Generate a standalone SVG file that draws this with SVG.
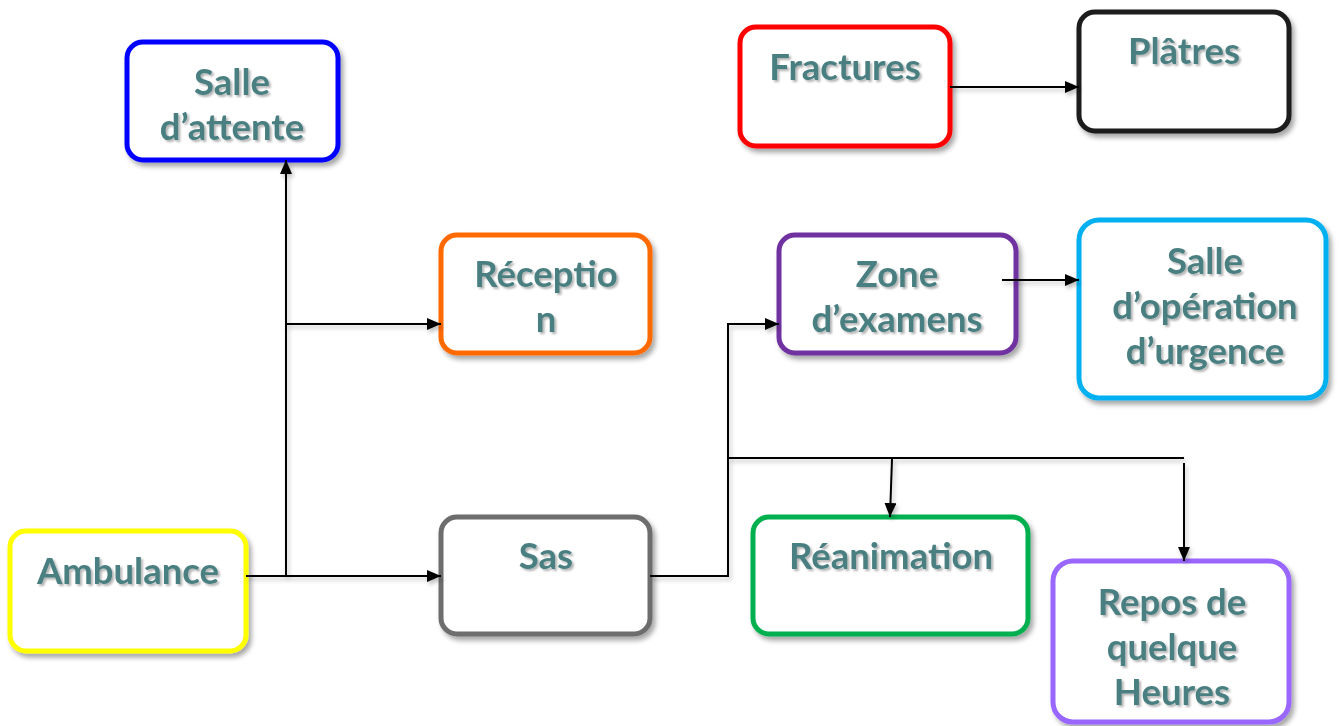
<svg xmlns="http://www.w3.org/2000/svg" width="1340" height="726" viewBox="0 0 1340 726">
<style>
.box{fill:#fff;stroke-width:5;filter:url(#sh)}
.t{font-family:Lato,"Open Sans","Liberation Sans",sans-serif;font-weight:bold;font-size:36.5px;fill:#4a7f80;text-anchor:middle;filter:url(#tsh)}
.c{fill:none;stroke:#000;stroke-width:2;filter:url(#lsh)}
</style>
<defs>
<filter id="sh" x="-10%" y="-10%" width="130%" height="130%"><feDropShadow dx="3" dy="4" stdDeviation="2.5" flood-color="#000" flood-opacity="0.35"/></filter>
<filter id="tsh" x="-10%" y="-10%" width="130%" height="140%"><feDropShadow dx="2" dy="2" stdDeviation="1.2" flood-color="#000" flood-opacity="0.3"/></filter>
<filter id="lsh" filterUnits="userSpaceOnUse" x="0" y="0" width="1340" height="726"><feDropShadow dx="2" dy="3" stdDeviation="2" flood-color="#000" flood-opacity="0.25"/></filter>
<marker id="ah" viewBox="0 0 10 10" refX="10" refY="5" markerWidth="14" markerHeight="12" markerUnits="userSpaceOnUse" orient="auto" preserveAspectRatio="none"><path d="M0,0L10,5L0,10z" fill="#000"/></marker>
</defs>
<g id="salle-attente"><rect class="box" x="127" y="42" width="211" height="118" rx="16" stroke="#0000ff"/><text class="t" x="232" y="95">Salle</text><text class="t" x="232" y="140">d’attente</text></g>
<g id="reception"><rect class="box" x="441" y="235" width="209" height="118" rx="16" stroke="#ff6a00"/><text class="t" x="546" y="287">Réceptio</text><text class="t" x="546" y="332">n</text></g>
<g id="ambulance"><rect class="box" x="10" y="531" width="236" height="120" rx="16" stroke="#ffff00"/><text class="t" x="128" y="584">Ambulance</text></g>
<g id="sas"><rect class="box" x="441" y="517" width="209" height="117" rx="16" stroke="#6d6d6d"/><text class="t" x="546" y="569">Sas</text></g>
<g id="fractures"><rect class="box" x="740" y="27" width="210" height="119" rx="16" stroke="#ff0000"/><text class="t" x="845" y="80">Fractures</text></g>
<g id="platres"><rect class="box" x="1079" y="12" width="210" height="119" rx="16" stroke="#1a1a1a"/><text class="t" x="1184" y="64">Plâtres</text></g>
<g id="zone-examens"><rect class="box" x="779" y="235" width="237" height="118" rx="16" stroke="#7030a0"/><text class="t" x="897" y="287">Zone</text><text class="t" x="897" y="332">d’examens</text></g>
<g id="salle-operation"><rect class="box" x="1079" y="220" width="247" height="178" rx="20" stroke="#00b0f0"/><text class="t" x="1205" y="274">Salle</text><text class="t" x="1205" y="319">d’opération</text><text class="t" x="1205" y="364">d’urgence</text></g>
<g id="reanimation"><rect class="box" x="753" y="517" width="275" height="117" rx="16" stroke="#00b050"/><text class="t" x="891" y="569">Réanimation</text></g>
<g id="repos"><rect class="box" x="1053" y="561" width="236" height="161" rx="20" stroke="#9966ff"/><text class="t" x="1172" y="615">Repos de</text><text class="t" x="1172" y="660">quelque</text><text class="t" x="1172" y="705">Heures</text></g>
<g id="connectors">
<path class="c" d="M246,576H441" marker-end="url(#ah)"/>
<path class="c" d="M286,576V160" marker-end="url(#ah)"/>
<path class="c" d="M286,324H441" marker-end="url(#ah)"/>
<path class="c" d="M650,576H728V324H779" marker-end="url(#ah)"/>
<path class="c" d="M728,458H1184"/>
<path class="c" d="M892,459L890,517" marker-end="url(#ah)"/>
<path class="c" d="M1184,463V561" marker-end="url(#ah)"/>
<path class="c" d="M1002,280H1079" marker-end="url(#ah)"/>
<path class="c" d="M950,87H1079" marker-end="url(#ah)"/>
</g>
</svg>
